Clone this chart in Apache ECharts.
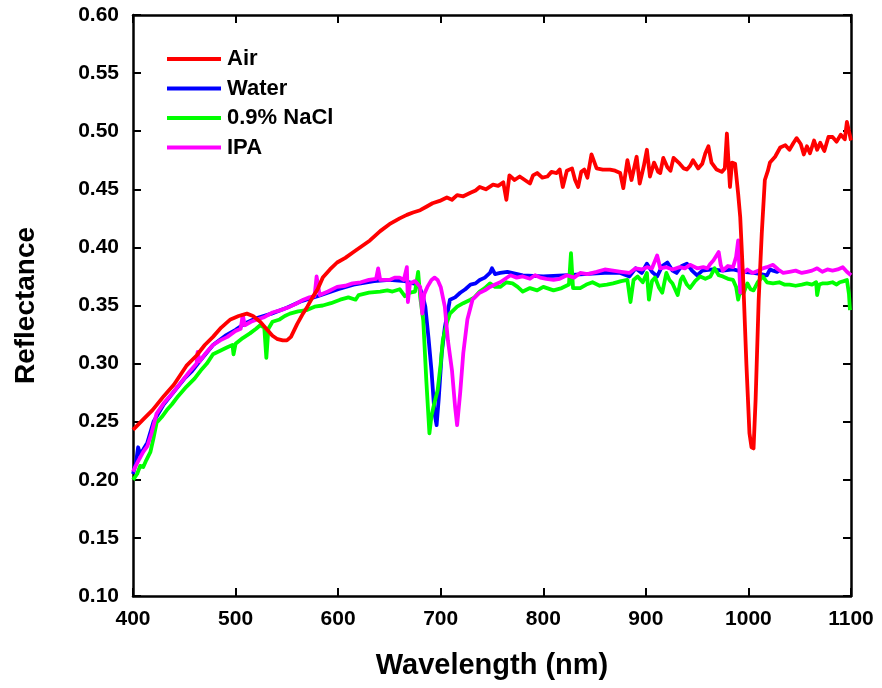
<!DOCTYPE html>
<html>
<head>
<meta charset="utf-8">
<script src="https://cdn.jsdelivr.net/npm/echarts@6/dist/echarts.min.js"></script>
<style>
  html, body { margin: 0; padding: 0; background: #fff; }
  #chart { width: 882px; height: 688px; }
</style>
</head>
<body>
<div id="chart"></div>
<script>
// Reflectance spectra, [wavelength (nm), reflectance]
const airData = [[400,0.243],[410,0.252],[419,0.260],[430,0.272],[440,0.282],[452,0.298],[462,0.307],[470,0.316],[478,0.323],[486,0.331],[495,0.338],[503,0.341],[511,0.343],[517,0.341],[524,0.336],[531,0.329],[536,0.324],[541,0.321],[546,0.320],[550,0.320],[554,0.323],[560,0.334],[565,0.342],[570,0.349],[575,0.357],[580,0.364],[585,0.374],[592,0.381],[599,0.387],[607,0.391],[615,0.396],[623,0.401],[631,0.406],[641,0.414],[650,0.420],[660,0.425],[667,0.428],[673,0.430],[680,0.432],[686,0.435],[692,0.438],[699,0.440],[706,0.443],[711,0.441],[716,0.445],[722,0.444],[729,0.447],[734,0.449],[738,0.452],[744,0.450],[751,0.454],[756,0.453],[761,0.456],[764,0.441],[767,0.462],[772,0.458],[777,0.461],[782,0.458],[787,0.455],[790,0.462],[794,0.464],[799,0.460],[804,0.461],[808,0.465],[813,0.464],[816,0.467],[819,0.452],[823,0.466],[828,0.468],[831,0.458],[834,0.452],[837,0.465],[840,0.467],[843,0.460],[847,0.480],[852,0.468],[858,0.467],[865,0.467],[870,0.466],[875,0.464],[878,0.451],[882,0.475],[886,0.458],[891,0.478],[894,0.455],[898,0.470],[901,0.484],[904,0.461],[908,0.473],[912,0.465],[914,0.464],[917,0.477],[921,0.469],[924,0.466],[927,0.477],[933,0.472],[937,0.468],[940,0.467],[943,0.470],[946,0.475],[951,0.468],[955,0.472],[958,0.481],[961,0.487],[964,0.473],[969,0.467],[974,0.465],[977,0.468],[979,0.498],[981,0.467],[982,0.452],[984,0.473],[987,0.472],[990,0.446],[992,0.426],[995,0.370],[998,0.300],[1001,0.240],[1003,0.228],[1005,0.227],[1007,0.269],[1010,0.355],[1013,0.412],[1016,0.458],[1019,0.466],[1021,0.473],[1026,0.478],[1031,0.486],[1036,0.488],[1040,0.484],[1044,0.490],[1047,0.494],[1051,0.489],[1054,0.480],[1057,0.487],[1060,0.481],[1064,0.492],[1067,0.484],[1070,0.490],[1074,0.483],[1078,0.495],[1082,0.495],[1086,0.491],[1090,0.497],[1094,0.493],[1096,0.508],[1098,0.500],[1100,0.492]];

const waterData = [[400,0.205],[403,0.215],[405,0.228],[407,0.222],[410,0.226],[414,0.232],[420,0.250],[430,0.265],[440,0.276],[450,0.287],[457,0.293],[465,0.302],[478,0.316],[490,0.324],[500,0.329],[510,0.335],[520,0.339],[535,0.343],[550,0.348],[565,0.354],[580,0.358],[600,0.364],[615,0.368],[635,0.371],[650,0.372],[665,0.371],[678,0.368],[682,0.360],[685,0.349],[688,0.323],[691,0.294],[694,0.257],[696,0.247],[698,0.269],[701,0.309],[704,0.331],[709,0.355],[714,0.357],[719,0.361],[724,0.364],[729,0.368],[734,0.369],[738,0.372],[743,0.374],[748,0.378],[750,0.382],[753,0.377],[758,0.378],[765,0.379],[780,0.376],[800,0.375],[820,0.376],[840,0.377],[860,0.378],[875,0.378],[884,0.375],[890,0.382],[896,0.378],[901,0.386],[906,0.379],[911,0.375],[916,0.384],[921,0.387],[926,0.380],[930,0.378],[935,0.384],[940,0.386],[945,0.380],[950,0.376],[955,0.380],[965,0.381],[975,0.380],[985,0.381],[995,0.379],[1005,0.378],[1012,0.377],[1018,0.376],[1021,0.381],[1024,0.380],[1028,0.379],[1030,0.380]];

const naclData = [[400,0.200],[404,0.205],[407,0.212],[410,0.211],[413,0.217],[417,0.224],[420,0.236],[423,0.249],[428,0.254],[433,0.260],[438,0.265],[444,0.272],[452,0.280],[460,0.287],[466,0.294],[472,0.300],[478,0.308],[485,0.311],[492,0.314],[497,0.316],[498,0.308],[500,0.317],[507,0.322],[514,0.326],[520,0.330],[524,0.333],[528,0.331],[530,0.305],[532,0.330],[536,0.336],[543,0.338],[548,0.341],[553,0.343],[561,0.345],[569,0.346],[577,0.349],[585,0.350],[593,0.352],[602,0.355],[610,0.357],[617,0.355],[620,0.359],[630,0.361],[641,0.362],[648,0.363],[653,0.362],[660,0.364],[665,0.358],[670,0.361],[675,0.362],[678,0.379],[680,0.357],[683,0.337],[686,0.285],[689,0.240],[691,0.255],[693,0.263],[697,0.277],[700,0.300],[702,0.320],[706,0.335],[709,0.343],[716,0.349],[722,0.352],[729,0.355],[733,0.357],[738,0.362],[743,0.365],[748,0.369],[753,0.366],[758,0.366],[764,0.370],[770,0.369],[775,0.366],[780,0.362],[787,0.365],[794,0.363],[800,0.366],[810,0.363],[818,0.365],[825,0.368],[827,0.395],[829,0.365],[836,0.365],[842,0.368],[848,0.370],[855,0.367],[862,0.368],[868,0.369],[876,0.371],[882,0.372],[885,0.353],[888,0.372],[892,0.375],[897,0.370],[901,0.378],[903,0.355],[906,0.371],[909,0.374],[913,0.365],[916,0.361],[920,0.378],[923,0.372],[926,0.369],[931,0.359],[934,0.372],[936,0.375],[940,0.368],[943,0.365],[948,0.371],[953,0.375],[958,0.373],[963,0.375],[967,0.382],[971,0.376],[975,0.375],[980,0.373],[985,0.372],[988,0.366],[990,0.355],[992,0.363],[995,0.360],[999,0.369],[1002,0.364],[1005,0.363],[1009,0.370],[1014,0.375],[1018,0.370],[1024,0.369],[1030,0.370],[1035,0.368],[1040,0.368],[1046,0.367],[1052,0.368],[1057,0.369],[1062,0.368],[1066,0.370],[1067,0.359],[1069,0.368],[1072,0.369],[1077,0.369],[1082,0.370],[1086,0.368],[1089,0.370],[1093,0.371],[1096,0.372],[1098,0.360],[1099,0.346]];

const ipaData = [[400,0.207],[405,0.216],[410,0.224],[414,0.229],[418,0.240],[423,0.257],[430,0.266],[439,0.275],[447,0.284],[455,0.293],[462,0.300],[463,0.310],[465,0.302],[470,0.308],[478,0.316],[485,0.320],[492,0.323],[500,0.328],[505,0.330],[507,0.342],[509,0.333],[515,0.336],[521,0.338],[528,0.340],[536,0.344],[544,0.346],[553,0.349],[560,0.352],[566,0.355],[572,0.357],[577,0.358],[579,0.375],[582,0.359],[590,0.362],[599,0.366],[607,0.367],[614,0.369],[622,0.370],[630,0.372],[637,0.373],[639,0.382],[641,0.372],[650,0.372],[655,0.374],[660,0.374],[664,0.372],[667,0.383],[668,0.353],[670,0.369],[675,0.371],[680,0.366],[682,0.343],[684,0.360],[687,0.366],[691,0.372],[694,0.374],[697,0.372],[700,0.366],[704,0.349],[707,0.320],[711,0.294],[714,0.263],[716,0.247],[719,0.275],[722,0.309],[726,0.338],[731,0.355],[738,0.361],[743,0.363],[748,0.366],[753,0.368],[758,0.370],[763,0.373],[768,0.376],[774,0.374],[780,0.375],[787,0.373],[792,0.376],[797,0.374],[803,0.373],[810,0.372],[816,0.373],[823,0.376],[830,0.374],[836,0.378],[843,0.377],[852,0.379],[860,0.381],[868,0.380],[876,0.379],[884,0.378],[890,0.382],[896,0.381],[901,0.383],[906,0.382],[911,0.393],[914,0.382],[920,0.383],[926,0.381],[933,0.383],[938,0.382],[943,0.385],[950,0.382],[956,0.383],[960,0.382],[963,0.386],[966,0.389],[971,0.396],[973,0.385],[975,0.380],[980,0.384],[985,0.383],[988,0.392],[990,0.406],[991,0.385],[992,0.361],[995,0.378],[999,0.381],[1004,0.378],[1010,0.380],[1014,0.382],[1018,0.383],[1024,0.385],[1029,0.381],[1034,0.378],[1040,0.379],[1046,0.380],[1052,0.378],[1057,0.379],[1062,0.380],[1067,0.382],[1072,0.379],[1077,0.381],[1082,0.380],[1087,0.381],[1092,0.383],[1096,0.379],[1100,0.376]];

const seriesNames = ['Air', 'Water', '0.9% NaCl', 'IPA'];
const seriesColors = ['#ff0000', '#0000ff', '#00ff00', '#ff00ff'];
const seriesData = [airData, waterData, naclData, ipaData];
// drawing order: Water at the bottom, Air on top
const seriesZ = [5, 2, 3, 4];

const xTicks = { min: 400, max: 1100, step: 100 };
const yTicks = { min: 0.10, max: 0.60, step: 0.05 };

const FONT = "Arial, 'Liberation Sans', sans-serif";

const axisLine = { show: true, onZero: false, lineStyle: { color: '#000', width: 2.5 } };
const axisTick = { show: true, inside: true, length: 8, lineStyle: { color: '#000', width: 2 } };

const chart = echarts.init(document.getElementById('chart'), null, { renderer: 'canvas' });
chart.setOption({
  animation: false,
  backgroundColor: '#fff',
  grid: { left: 133, right: 31, top: 15, bottom: 92 },
  legend: {
    orient: 'vertical',
    left: 162,
    top: 43,
    icon: 'rect',
    itemWidth: 54,
    itemHeight: 4,
    itemGap: 7.5,
    data: seriesNames,
    textStyle: { fontFamily: FONT, fontWeight: 'bold', fontSize: 22, color: '#000', padding: [0, 0, 0, 1] }
  },
  xAxis: [{
    type: 'value',
    min: xTicks.min, max: xTicks.max, interval: xTicks.step,
    name: 'Wavelength (nm)',
    nameLocation: 'middle',
    nameGap: 55,
    nameTextStyle: { fontFamily: FONT, fontWeight: 'bold', fontSize: 29, color: '#000' },
    axisLine, axisTick,
    axisLabel: { margin: 13, fontFamily: FONT, fontWeight: 'bold', fontSize: 21, color: '#000',
                 formatter: v => String(v) },
    splitLine: { show: false }
  }, {
    type: 'value', position: 'top',
    min: xTicks.min, max: xTicks.max, interval: xTicks.step,
    axisLine, axisTick,
    axisLabel: { show: false }, splitLine: { show: false }
  }],
  yAxis: [{
    type: 'value',
    min: yTicks.min, max: yTicks.max, interval: yTicks.step,
    name: 'Reflectance',
    nameLocation: 'middle',
    nameGap: 93,
    nameTextStyle: { fontFamily: FONT, fontWeight: 'bold', fontSize: 28, color: '#000' },
    axisLine, axisTick,
    axisLabel: { margin: 14, fontFamily: FONT, fontWeight: 'bold', fontSize: 21, color: '#000',
                 formatter: v => v.toFixed(2) },
    splitLine: { show: false }
  }, {
    type: 'value', position: 'right',
    min: yTicks.min, max: yTicks.max, interval: yTicks.step,
    axisLine, axisTick,
    axisLabel: { show: false }, splitLine: { show: false }
  }],
  series: seriesNames.map((name, i) => ({
    name,
    type: 'line',
    data: seriesData[i],
    z: seriesZ[i],
    showSymbol: false,
    symbol: 'none',
    color: seriesColors[i],
    lineStyle: { width: 3.8, color: seriesColors[i], join: 'round' }
  }))
});
</script>
</body>
</html>
